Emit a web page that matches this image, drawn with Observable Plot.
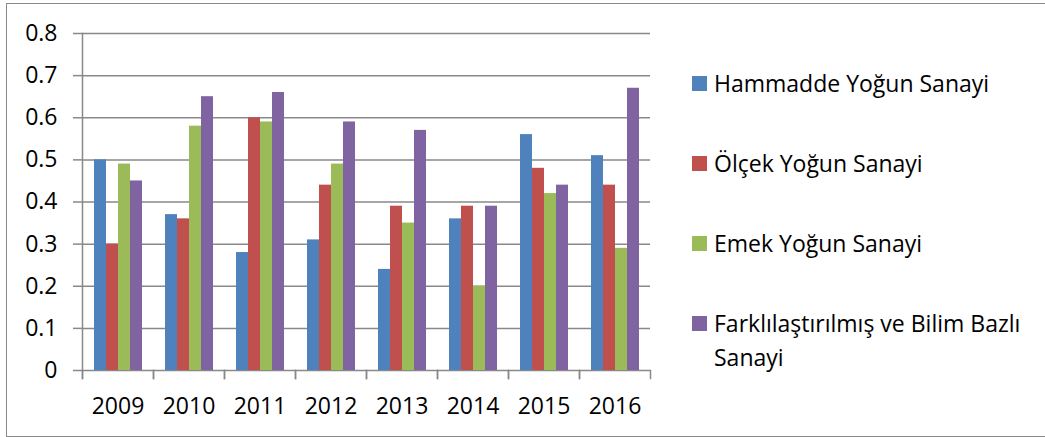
<!DOCTYPE html>
<html>
<head>
<meta charset="utf-8">
<script src="https://cdn.jsdelivr.net/npm/d3@7"></script>
<script src="https://cdn.jsdelivr.net/npm/@observablehq/plot@0.6"></script>
<style>
  body { margin: 0; background: #fff; font-family: "Open Sans", sans-serif; }
  #wrap { position: relative; width: 1045px; height: 437px; overflow: hidden; background: #fff; }
  #border { position: absolute; left: 5.5px; top: 2.5px; width: 1100px; height: 434px; box-sizing: border-box;
            border: 1.5px solid #8a8a8a; border-right: none; }
  #chart { position: absolute; left: 0; top: 0; }
  #legend { position: absolute; left: 692px; top: 66px; width: 330px; font-size: 23px; color: #000; }
  .item { display: flex; align-items: flex-start; line-height: 34px; margin-bottom: 46px; }
  .sw { width: 15px; height: 15px; flex: none; margin-top: 9.5px; margin-right: 7px; }
</style>
</head>
<body>
<div id="wrap">
  <div id="border"></div>
  <div id="chart"></div>
  <div id="legend"></div>
</div>
<script>
const years = ["2009", "2010", "2011", "2012", "2013", "2014", "2015", "2016"];
const seriesNames = ["Hammadde Yoğun Sanayi", "Ölçek Yoğun Sanayi", "Emek Yoğun Sanayi", "Farklılaştırılmış ve Bilim Bazlı Sanayi"];
const hammadde = [0.50, 0.37, 0.28, 0.31, 0.24, 0.36, 0.56, 0.51];
const olcek    = [0.30, 0.36, 0.60, 0.44, 0.39, 0.39, 0.48, 0.44];
const emek     = [0.49, 0.58, 0.59, 0.49, 0.35, 0.20, 0.42, 0.29];
const farkli   = [0.45, 0.65, 0.66, 0.59, 0.57, 0.39, 0.44, 0.67];
const colors = ["#4F81BD", "#C0504D", "#9BBB59", "#8064A2"];
const yTicks = [0, 0.1, 0.2, 0.3, 0.4, 0.5, 0.6, 0.7, 0.8];

const seriesValues = [hammadde, olcek, emek, farkli];
const data = years.flatMap((yr, i) => seriesNames.map((s, j) => ({year: yr, series: s, value: seriesValues[j][i]})));

const gridColor = "#898989";
const chart = Plot.plot({
  width: 660,
  height: 437,
  marginLeft: 82,
  marginRight: 10,
  marginTop: 33,
  marginBottom: 67,
  style: {fontFamily: "Open Sans", fontSize: "23px", color: "#000", background: "transparent", overflow: "visible"},
  fx: {domain: years, paddingInner: 0, paddingOuter: 0, label: null},
  x: {domain: seriesNames, paddingInner: 0, paddingOuter: 0.75, axis: null},
  y: {domain: [0, 0.8], label: null},
  color: {domain: seriesNames, range: colors},
  marks: [
    Plot.ruleY(yTicks, {stroke: gridColor, strokeWidth: 1.5}),
    Plot.barY(data, {fx: "year", x: "series", y: "value", fill: "series"}),
    Plot.frame({anchor: "left", insetTop: 337, insetBottom: -8, stroke: gridColor, strokeWidth: 1.5}),
    Plot.frame({anchor: "right", insetTop: 337, insetBottom: -8, stroke: gridColor, strokeWidth: 1.5}),
    Plot.frame({anchor: "left", fx: [years[0]], insetBottom: -8, stroke: gridColor, strokeWidth: 1.5}),
    Plot.axisY(yTicks, {tickSize: 9, tickPadding: 16, tickFormat: d => d === 0 ? "0" : d.toFixed(1),
      stroke: gridColor, strokeWidth: 1.5, fill: "#000", fontSize: 23, label: null}),
    Plot.axisFx({anchor: "bottom", tickSize: 0, tickPadding: 27, fill: "#000", fontSize: 23, label: null})
  ]
});
document.getElementById("chart").appendChild(chart);

const legend = document.getElementById("legend");
seriesNames.forEach((s, i) => {
  const item = document.createElement("div");
  item.className = "item";
  const sw = document.createElement("div");
  sw.className = "sw";
  sw.style.background = colors[i];
  const t = document.createElement("div");
  t.textContent = s;
  item.appendChild(sw);
  item.appendChild(t);
  legend.appendChild(item);
});
</script>
</body>
</html>
